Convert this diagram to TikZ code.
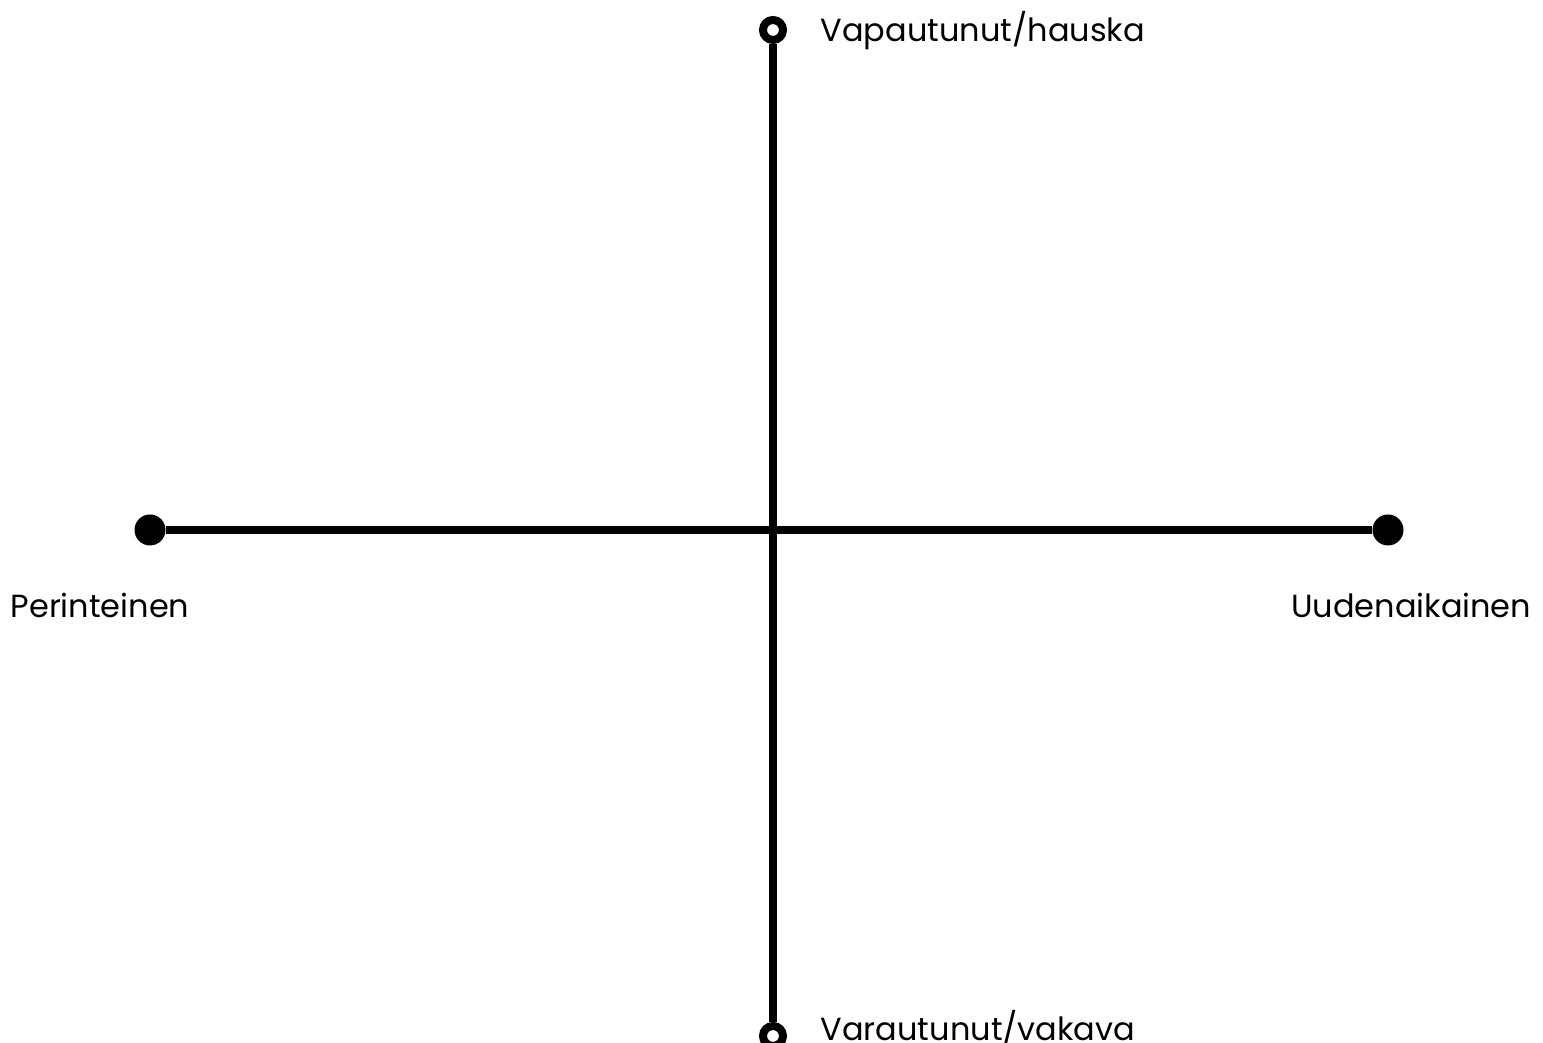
\documentclass[tikz,border=0pt]{standalone}
\usepackage{fontspec}
\setmainfont{Poppins}
\usetikzlibrary{positioning}

\begin{document}
\begin{tikzpicture}[
    axis/.style={line width=0.08cm, black},
    enddot/.style={circle, fill=black, minimum size=0.31cm, inner sep=0pt},
    endring/.style={circle, draw=black, fill=white, line width=0.08cm,
                    minimum size=0.2cm, inner sep=0pt},
    lbl/.style={font=\fontsize{9.1pt}{11pt}\selectfont, inner sep=0pt},
]
  \useasboundingbox (0,0) rectangle (15.43,10.43);

  % ---- Axis ends ----
  \node[enddot]  (trad) at (1.50, 5.13) {};
  \node[enddot]  (mod)  at (13.88, 5.13) {};
  \node[endring] (free) at (7.73, 10.13) {};
  \node[endring] (ser)  at (7.73, 0.07) {};

  % ---- Axes ----
  \draw[axis] (trad) -- (mod);
  \draw[axis] (free) -- (ser);

  % ---- Labels ----
  \node[lbl, anchor=base west] (freelbl) at (8.20, 10.01) {Vapautunut/hauska};
  \node[lbl, anchor=base west] (serlbl)  at (8.20, 0.02)  {Varautunut/vakava};
  \node[lbl, anchor=base west] (tradlbl) at (0.10, 4.25)  {Perinteinen};
  \node[lbl, anchor=base east] (modlbl)  at (15.32, 4.25) {Uudenaikainen};

\end{tikzpicture}
\end{document}
